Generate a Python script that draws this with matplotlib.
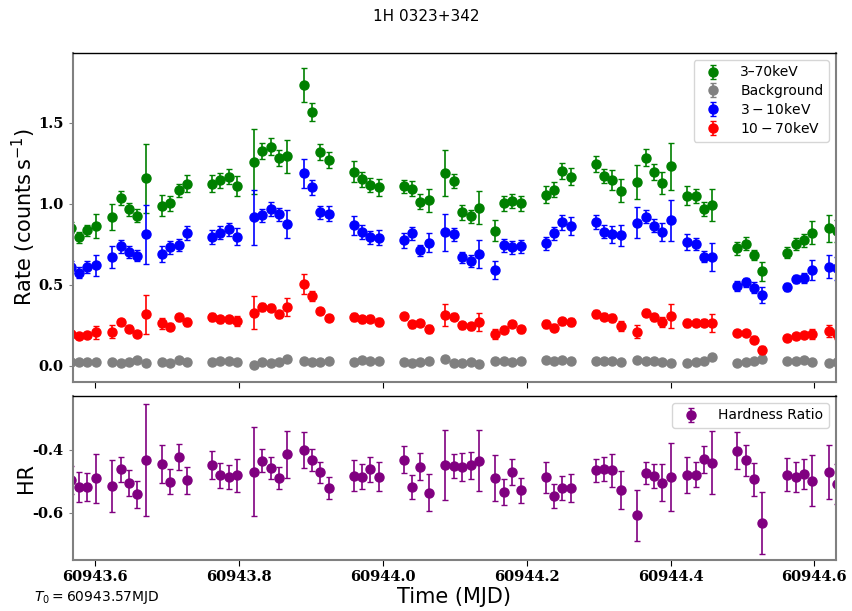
import numpy as np
import matplotlib
matplotlib.use("Agg")
import matplotlib.pyplot as plt
from matplotlib.ticker import FormatStrFormatter

# ============================
# Datos (MJD, tasas en counts/s)
# ============================
time = [60943.5662, 60943.5777, 60943.5893, 60943.6010,
        60943.6241, 60943.6357, 60943.6473, 60943.6588, 60943.6705,
        60943.6932, 60943.7047, 60943.7164, 60943.7280,
        60943.7627, 60943.7743, 60943.7860, 60943.7975,
        60943.8211, 60943.8327, 60943.8444, 60943.8559, 60943.8675,
        60943.8903, 60943.9018, 60943.9134, 60943.9250,
        60943.9598, 60943.9713, 60943.9829, 60943.9946,
        60944.0294, 60944.0409, 60944.0524, 60944.0641,
        60944.0872, 60944.0989, 60944.1104, 60944.1220, 60944.1337,
        60944.1567, 60944.1684, 60944.1800, 60944.1915,
        60944.2263, 60944.2380, 60944.2495, 60944.2611,
        60944.2958, 60944.3075, 60944.3191, 60944.3306,
        60944.3538, 60944.3654, 60944.3770, 60944.3886, 60944.4001,
        60944.4234, 60944.4349, 60944.4466, 60944.4581,
        60944.4929, 60944.5045, 60944.5161, 60944.5277,
        60944.5625, 60944.5740, 60944.5857, 60944.5972,
        60944.6204, 60944.6320]

rate_full = [0.852, 0.793, 0.836, 0.864,
             0.918, 1.035, 0.965, 0.926, 1.156,
             0.988, 1.002, 1.082, 1.125,
             1.125, 1.144, 1.168, 1.109,
             1.259, 1.324, 1.353, 1.281, 1.292,
             1.731, 1.565, 1.320, 1.271,
             1.199, 1.150, 1.117, 1.101,
             1.107, 1.094, 1.014, 1.021,
             1.191, 1.140, 0.947, 0.924, 0.977,
             0.834, 1.002, 1.018, 1.002,
             1.057, 1.088, 1.203, 1.168,
             1.244, 1.172, 1.146, 1.080,
             1.135, 1.285, 1.197, 1.129, 1.232,
             1.051, 1.049, 0.969, 0.992,
             0.725, 0.754, 0.684, 0.583,
             0.698, 0.752, 0.774, 0.821,
             0.848, 0.833]
err_full = [0.035, 0.035, 0.035, 0.075,
            0.08, 0.045, 0.04, 0.04, 0.21,
            0.065, 0.045, 0.04, 0.05,
            0.055, 0.045, 0.045, 0.063,
            0.2, 0.05, 0.05, 0.05, 0.1,
            0.105, 0.057, 0.05, 0.05,
            0.065, 0.045, 0.045, 0.05,
            0.04, 0.045, 0.045, 0.07,
            0.14, 0.045, 0.045, 0.04, 0.1,
            0.065, 0.045, 0.045, 0.045,
            0.055, 0.045, 0.05, 0.055,
            0.05, 0.045, 0.06, 0.07,
            0.107, 0.05, 0.05, 0.07, 0.145,
            0.06, 0.045, 0.045, 0.1,
            0.04, 0.04, 0.03, 0.06,
            0.035, 0.04, 0.04, 0.07,
            0.085, 0.07]

rate_bkg = [0.027, 0.027, 0.025, 0.025,
            0.027, 0.021, 0.027, 0.037, 0.021,
            0.025, 0.021, 0.037, 0.025,
            0.025, 0.031, 0.031, 0.027,
            0.006, 0.025, 0.021, 0.023, 0.045,
            0.033, 0.027, 0.023, 0.029,
            0.027, 0.037, 0.029, 0.033,
            0.023, 0.016, 0.027, 0.029,
            0.045, 0.016, 0.021, 0.025, 0.010,
            0.033, 0.029, 0.023, 0.031,
            0.035, 0.029, 0.035, 0.029,
            0.029, 0.029, 0.029, 0.023,
            0.035, 0.031, 0.029, 0.025, 0.021,
            0.016, 0.027, 0.031, 0.053,
            0.021, 0.027, 0.033, 0.041,
            0.033, 0.029, 0.035, 0.027,
            0.016, 0.023]

rate_soft = [0.610, 0.575, 0.610, 0.622,
             0.671, 0.739, 0.702, 0.680, 0.811,
             0.690, 0.731, 0.745, 0.821,
             0.795, 0.821, 0.842, 0.797,
             0.916, 0.930, 0.969, 0.936, 0.877,
             1.187, 1.101, 0.949, 0.940,
             0.867, 0.825, 0.793, 0.791,
             0.774, 0.817, 0.713, 0.760,
             0.825, 0.811, 0.669, 0.647, 0.692,
             0.591, 0.745, 0.731, 0.739,
             0.756, 0.817, 0.885, 0.864,
             0.887, 0.828, 0.811, 0.805,
             0.883, 0.920, 0.864, 0.828, 0.897,
             0.762, 0.752, 0.673, 0.673,
             0.491, 0.515, 0.483, 0.437,
             0.487, 0.534, 0.542, 0.591,
             0.612, 0.602]
err_soft = [0.035, 0.033, 0.035, 0.065,
            0.07, 0.04, 0.038, 0.035, 0.18,
            0.05, 0.038, 0.037, 0.045,
            0.045, 0.04, 0.04, 0.053,
            0.17, 0.04, 0.045, 0.04, 0.085,
            0.087, 0.045, 0.04, 0.045,
            0.057, 0.045, 0.04, 0.045,
            0.045, 0.04, 0.035, 0.06,
            0.115, 0.04, 0.035, 0.035, 0.085,
            0.055, 0.04, 0.04, 0.04,
            0.04, 0.04, 0.045, 0.055,
            0.045, 0.04, 0.055, 0.065,
            0.095, 0.04, 0.04, 0.055, 0.125,
            0.05, 0.035, 0.035, 0.085,
            0.03, 0.03, 0.035, 0.05,
            0.025, 0.025, 0.03, 0.06,
            0.07, 0.07]

rate_hard = [0.199, 0.183, 0.193, 0.209,
             0.211, 0.271, 0.230, 0.199, 0.318,
             0.263, 0.242, 0.300, 0.273,
             0.300, 0.287, 0.287, 0.275,
             0.329, 0.366, 0.359, 0.318, 0.361,
             0.505, 0.431, 0.339, 0.296,
             0.302, 0.287, 0.292, 0.271,
             0.306, 0.257, 0.265, 0.226,
             0.314, 0.304, 0.251, 0.244, 0.271,
             0.199, 0.224, 0.259, 0.226,
             0.257, 0.236, 0.275, 0.269,
             0.320, 0.304, 0.296, 0.248,
             0.212, 0.329, 0.300, 0.269, 0.310,
             0.267, 0.267, 0.267, 0.263,
             0.205, 0.203, 0.162, 0.097,
             0.170, 0.183, 0.191, 0.197,
             0.216, 0.197]
err_hard = [0.015, 0.015, 0.015, 0.04,
            0.04, 0.02, 0.02, 0.015, 0.12,
            0.035, 0.02, 0.02, 0.025,
            0.025, 0.02, 0.02, 0.03,
            0.1, 0.025, 0.02, 0.02, 0.055,
            0.06, 0.03, 0.02, 0.02,
            0.025, 0.02, 0.02, 0.025,
            0.02, 0.02, 0.02, 0.025,
            0.07, 0.02, 0.02, 0.02, 0.055,
            0.03, 0.02, 0.02, 0.02,
            0.025, 0.02, 0.02, 0.025,
            0.025, 0.02, 0.025, 0.03,
            0.04, 0.02, 0.02, 0.03, 0.075,
            0.025, 0.02, 0.02, 0.055,
            0.015, 0.015, 0.02, 0.025,
            0.015, 0.015, 0.015, 0.03,
            0.035, 0.03]

hr = [-0.497, -0.517, -0.518, -0.491,
      -0.514, -0.462, -0.505, -0.542, -0.432,
      -0.444, -0.501, -0.422, -0.497,
      -0.449, -0.481, -0.487, -0.481,
      -0.470, -0.434, -0.458, -0.490, -0.414,
      -0.401, -0.432, -0.472, -0.520,
      -0.482, -0.485, -0.461, -0.485,
      -0.431, -0.518, -0.453, -0.536,
      -0.448, -0.452, -0.454, -0.449, -0.434,
      -0.489, -0.535, -0.471, -0.529,
      -0.487, -0.547, -0.522, -0.522,
      -0.465, -0.462, -0.465, -0.527,
      -0.609, -0.473, -0.484, -0.505, -0.486,
      -0.480, -0.479, -0.430, -0.441,
      -0.402, -0.433, -0.494, -0.632,
      -0.479, -0.486, -0.477, -0.498,
      -0.471, -0.508]
hr_err = [0.045, 0.048, 0.045, 0.079,
          0.083, 0.041, 0.042, 0.043, 0.179,
          0.06, 0.04, 0.041, 0.043,
          0.045, 0.04, 0.039, 0.053,
          0.142, 0.036, 0.035, 0.035, 0.075,
          0.057, 0.034, 0.035, 0.035,
          0.049, 0.039, 0.04, 0.046,
          0.043, 0.038, 0.043, 0.058,
          0.111, 0.038, 0.044, 0.043, 0.096,
          0.073, 0.041, 0.041, 0.041,
          0.049, 0.038, 0.039, 0.045,
          0.037, 0.038, 0.052, 0.06,
          0.08, 0.036, 0.038, 0.059, 0.108,
          0.057, 0.04, 0.043, 0.1,
          0.058, 0.05, 0.052, 0.099,
          0.052, 0.048, 0.048, 0.081,
          0.087, 0.063]

t0 = 60943.57
xlim = (60943.569, 60944.630)

# ============================
# Figura
# ============================
fig = plt.figure(figsize=(8.52, 6.11), dpi=100)
ax1 = fig.add_axes([0.0853, 0.3753, 0.8959, 0.5380])
ax2 = fig.add_axes([0.0853, 0.0835, 0.8959, 0.2684], sharex=ax1)

eb = dict(fmt='o', ms=6.5, capsize=2, elinewidth=1.2, capthick=1.0)

ax1.errorbar(time, rate_full, yerr=err_full, color='green', label='3–70keV', **eb)
ax1.errorbar(time, rate_bkg, yerr=[0.004] * len(rate_bkg), color='gray', label='Background', **eb)
ax1.errorbar(time, rate_soft, yerr=err_soft, color='blue', label=r'$3-10$keV', **eb)
ax1.errorbar(time, rate_hard, yerr=err_hard, color='red', label=r'$10-70$keV', **eb)
ax2.errorbar(time, hr, yerr=hr_err, color='purple', label='Hardness Ratio', **eb)

ax1.set_xlim(*xlim)
ax1.set_ylim(-0.097, 1.93)
ax2.set_ylim(-0.751, -0.228)
ax1.set_yticks([0.0, 0.5, 1.0, 1.5])
ax2.set_yticks([-0.6, -0.4])
ax2.set_xticks([60943.6, 60943.8, 60944.0, 60944.2, 60944.4, 60944.6])
ax2.xaxis.set_major_formatter(FormatStrFormatter('%.1f'))
ax1.tick_params(axis='x', labelbottom=False)

for ax in (ax1, ax2):
    ax.yaxis.set_major_formatter(FormatStrFormatter('%.1f'))
    ax.tick_params(axis='y', direction='out', length=3, color='gray')
    ax.tick_params(axis='x', direction='out', length=4, color='black')
    for side in ('left', 'right', 'bottom'):
        ax.spines[side].set_color('#808080')
        ax.spines[side].set_linewidth(1.5)
    ax.spines['top'].set_color('black')
    ax.spines['top'].set_linewidth(1.0)

fig.canvas.draw()
for ax in (ax1, ax2):
    for lab in ax.get_xticklabels() + ax.get_yticklabels():
        lab.set_family('DejaVu Serif')
        lab.set_weight('bold')
        lab.set_size(10.5)

ax1.set_ylabel(r'Rate (counts$\,$s$^{-1}$)', fontsize=15)
ax2.set_ylabel('HR', fontsize=15)
ax2.set_xlabel('Time (MJD)', fontsize=15, labelpad=2)
ax1.yaxis.set_label_coords(-0.046, 0.5)
ax2.yaxis.set_label_coords(-0.048, 0.5)

ax1.legend(loc='upper right', fontsize=10, handletextpad=0.95, labelspacing=0.3,
           borderpad=0.4)
ax2.legend(loc='upper right', fontsize=10, handletextpad=0.95, borderpad=0.4)

fig.suptitle('1H 0323+342', fontsize=11, y=0.985)
fig.text(0.04, 0.016, r'$T_0=60943.57$MJD', fontsize=10)

fig.savefig('out.png', dpi=100)
